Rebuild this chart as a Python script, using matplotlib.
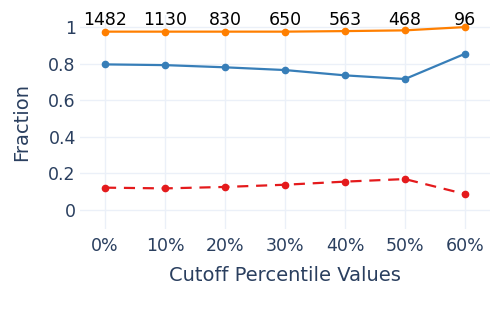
import matplotlib.pyplot as plt

categories = ["0%", "10%", "20%", "30%", "40%", "50%", "60%"]
counts = ["1482", "1130", "830", "650", "563", "468", "96"]
orange_vals = [0.975, 0.975, 0.975, 0.975, 0.978, 0.982, 1.0]
blue_vals = [0.796, 0.792, 0.780, 0.765, 0.736, 0.716, 0.854]
red_vals = [0.122, 0.118, 0.126, 0.138, 0.155, 0.169, 0.087]

text_color = "#2a3f5f"
grid_color = "#ebf0f8"
plt.rcParams["font.family"] = "DejaVu Sans"

fig = plt.figure(figsize=(4.9, 3.09), dpi=100)
ax = fig.add_axes([80 / 490, 1 - 229 / 309, 410 / 490, 214 / 309])

x = list(range(len(categories)))
ax.plot(x, orange_vals, color="#ff7f00", lw=1.6, marker="o", ms=4.5, zorder=3)
ax.plot(x, blue_vals, color="#377eb8", lw=1.6, marker="o", ms=4.5, zorder=3)
ax.plot(x, red_vals, color="#e41a1c", lw=1.6, marker="o", ms=4.5, dashes=(5, 3.5), zorder=3)

# count labels sit on one common line above the top series
for xi, t in zip(x, counts):
    ax.text(xi, 1.012, t, ha="center", va="baseline", fontsize=12.5, color="black", zorder=4)

ax.set_xlim(-0.417, 6.417)
ax.set_ylim(-0.104, 1.066)
ax.set_xticks(x)
ax.set_xticklabels(categories)
ax.set_yticks([0, 0.2, 0.4, 0.6, 0.8, 1])
ax.set_yticklabels(["0", "0.2", "0.4", "0.6", "0.8", "1"])
ax.grid(True, color=grid_color, lw=1)
ax.set_axisbelow(True)
for s in ax.spines.values():
    s.set_visible(False)
ax.tick_params(length=0, colors=text_color, labelsize=12.5)
ax.tick_params(axis="x", pad=6)
ax.tick_params(axis="y", pad=3)

ax.set_xlabel("Cutoff Percentile Values", fontsize=14, color=text_color, labelpad=8)
ax.set_ylabel("Fraction", fontsize=14, color=text_color, labelpad=12)

fig.savefig("out.png", dpi=100)
